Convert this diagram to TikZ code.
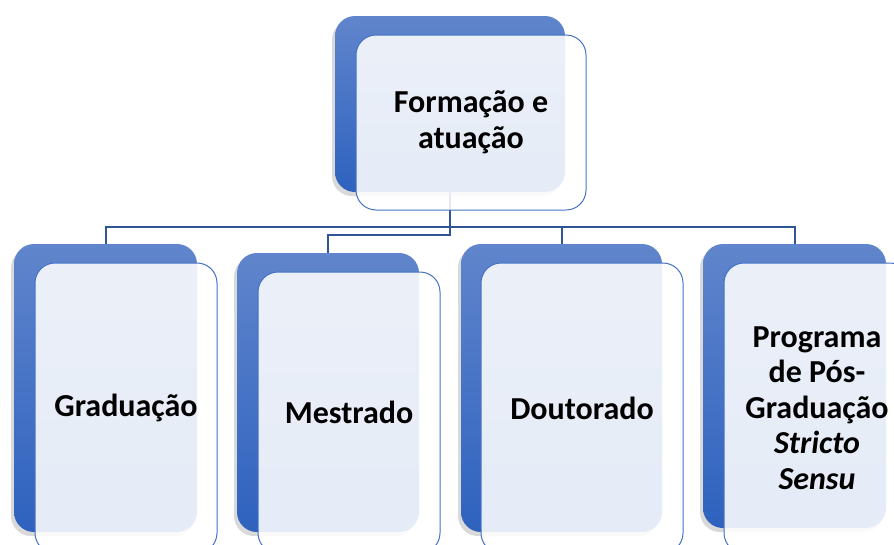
\documentclass[tikz,border=0pt]{standalone}
\usepackage{fontspec}
\setmainfont{Carlito}
\usepackage{xcolor}
\usepackage{tikz}
\usetikzlibrary{shadows,backgrounds}
\definecolor{boxtop}{HTML}{6085CC}
\definecolor{boxbottom}{HTML}{2E62BE}
\definecolor{boxline}{HTML}{4472C4}
\definecolor{linkline}{HTML}{2F5597}
\tikzset{
    backnode/.style={rectangle,rounded corners=20pt,inner sep=0pt,top color=boxtop,bottom color=boxbottom,drop shadow={shadow xshift=-3pt,shadow yshift=-4pt,opacity=0.3}},
    frontnode/.style={rectangle,rounded corners=20pt,inner sep=2pt,align=center,draw=boxline,line width=1pt,fill=white,fill opacity=0.88,text opacity=1,font=\fontsize{32}{35.5}\selectfont\bfseries},
    link/.style={draw=linkline,line width=2pt}
}
\begin{document}
\begin{tikzpicture}[x=1pt,y=-1pt]
				\useasboundingbox (0,0) rectangle (894,544);
				
				\node[backnode,minimum width=230pt,minimum height=176pt] (FAb) at (450,104) {};
				\node[frontnode,minimum width=230pt,minimum height=175pt] (FA) at (471,122.5) {Formação e\\atuação};
				
				\node[backnode,minimum width=183pt,minimum height=288pt] (GRb) at (105.5,388) {};
				\node[frontnode,minimum width=182pt,minimum height=290pt] (GR) at (126,408) {Graduação};
				
				\node[backnode,minimum width=182pt,minimum height=279pt] (MEb) at (328,392.5) {};
				\node[frontnode,minimum width=182pt,minimum height=281pt] (ME) at (349,412.5) {Mestrado};
				
				\node[backnode,minimum width=201pt,minimum height=288pt] (DOb) at (561.5,388) {};
				\node[frontnode,minimum width=202pt,minimum height=290pt] (DO) at (582,408) {Doutorado};
				
				\node[backnode,minimum width=183pt,minimum height=284pt] (PRb) at (794.5,386) {};
				\node[frontnode,minimum width=186pt,minimum height=290pt] (PR) at (817,408) {Programa\\de Pós-\\Graduação\\\textit{Stricto}\\\textit{Sensu}};
				
				\begin{pgfonlayer}{background}
				\path[link]
				(FAb.south) -- ++(0,35) -| (GRb.north)
				(FAb.south) -- ++(0,43) -| (MEb.north)
				(FAb.south) -- ++(0,35) -| (DOb.north)
				(FAb.south) -- ++(0,35) -| (PRb.north);
				\end{pgfonlayer}
			\end{tikzpicture}
\end{document}
